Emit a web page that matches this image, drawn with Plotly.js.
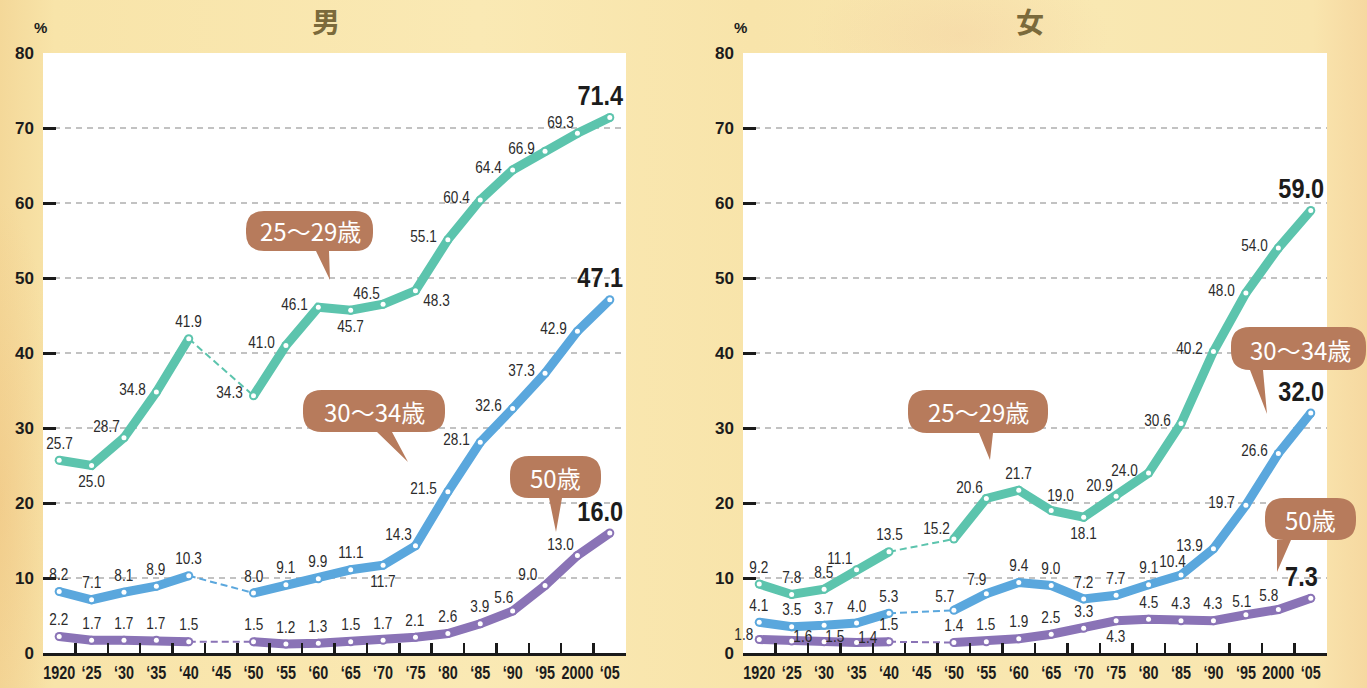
<!DOCTYPE html>
<html>
<head>
<meta charset="utf-8">
<script src="https://cdn.plot.ly/plotly-3.0.1.min.js"></script>
<style>
html,body{margin:0;padding:0;}
body{width:1367px;height:688px;overflow:hidden;
background:
 radial-gradient(ellipse 150px 70px at 960px 35px, rgba(238,185,150,0.22), rgba(238,185,150,0)),
 radial-gradient(ellipse 60px 300px at 0px 500px, rgba(236,180,110,0.30), rgba(236,180,110,0)),
 linear-gradient(90deg,#f4d899 0%,#f8e4a9 4%,#fae9b4 35%,#f8e4aa 55%,#f9e8b2 80%,#f9e5ae 96%,#f6d8a0 100%);}
#chart{width:1367px;height:688px;}
</style>
</head>
<body>
<div id="chart"></div>
<script>
// ---- data ----
const years = ['1920','‘25','‘30','‘35','‘40','‘45','‘50','‘55','‘60','‘65','‘70','‘75','‘80','‘85','‘90','‘95','2000','‘05'];

const male_25_29 = [25.7,25.0,28.7,34.8,41.9,null,34.3,41.0,46.1,45.7,46.5,48.3,55.1,60.4,64.4,66.9,69.3,71.4];
const male_30_34 = [8.2,7.1,8.1,8.9,10.3,null,8.0,9.1,9.9,11.1,11.7,14.3,21.5,28.1,32.6,37.3,42.9,47.1];
const male_50    = [2.2,1.7,1.7,1.7,1.5,null,1.5,1.2,1.3,1.5,1.7,2.1,2.6,3.9,5.6,9.0,13.0,16.0];

const female_25_29 = [9.2,7.8,8.5,11.1,13.5,null,15.2,20.6,21.7,19.0,18.1,20.9,24.0,30.6,40.2,48.0,54.0,59.0];
const female_30_34 = [4.1,3.5,3.7,4.0,5.3,null,5.7,7.9,9.4,9.0,7.2,7.7,9.1,10.4,13.9,19.7,26.6,32.0];
const female_50    = [1.8,1.6,1.5,1.4,1.5,null,1.4,1.5,1.9,2.5,3.3,4.3,4.5,4.3,4.3,5.1,5.8,7.3];

const seriesNames = ['25～29歳','30～34歳','50歳'];
const panelTitles = ['男','女'];

// ---- label placement codes (style) ----
const posM2529 = ['a','b','al','l','a','','l','l','l','b','al','br','l','l','l','l','al','big'];
const posM3034 = ['a','a','a','a','a','','a','a','a','a','b','al','l','l','l','l','l','big'];
const posM50   = ['a','a','a','a','a','','a','a','a','a','a','a','a','a','a2','al','al','big'];
const posF2529 = ['a','a','a','al','a','','al','al','a','ar','b','al','l','l','l','l','l','big'];
const posF3034 = ['a','a','a','a','a','','a2','a2','a','a','a','a','a','a2','l','l','l','big'];
const posF50   = ['l2','r','r','r','a','','a','a','a','a','a','b','a','a','a','a3','a2','big'];

const OFF = {a:[0,-17], a2:[-9,-14], a3:[-4,-13], b:[0,16], l:[-24,-3], l2:[-15,-5], al:[-17,-11], ar:[9,-15], r:[11,-5], br:[21,10], big:[-9,-22]};

const colTeal = '#5cc4ad', colBlue = '#5aa7dd', colPurple = '#8a73b6';
const bubbleCol = '#b77b5c';
const NUMFONT = 'Liberation Sans, Arial, sans-serif';

const W = 1367, H = 688, MT = 53, MB = 35, PH = H - MT - MB;
const px = x => x / W;
const py = y => (H - MB - y) / PH;

const traces = [];
const annotations = [];
const shapes = [];

function addSeries(xa, ya, vals, color, pos) {
  traces.push({x:[years[4], years[6]], y:[vals[4], vals[6]], xaxis:xa, yaxis:ya, mode:'lines',
    line:{color:color, width:2, dash:'7px,4px'}, hoverinfo:'skip', showlegend:false});
  traces.push({x:years, y:vals, xaxis:xa, yaxis:ya, mode:'lines+markers', connectgaps:false,
    line:{color:color, width:9}, marker:{size:9, color:color}, hoverinfo:'skip', showlegend:false});
  traces.push({x:years, y:vals, xaxis:xa, yaxis:ya, mode:'markers',
    marker:{size:5, color:'white'}, hoverinfo:'skip', showlegend:false});
  vals.forEach((v, i) => {
    if (v === null) return;
    const code = pos[i];
    const o = OFF[code];
    const big = code === 'big';
    // x given as the category index so numeric-looking labels ('1920','2000') are not misread
    annotations.push({xref:xa, yref:ya, x:i, y:v, text:v.toFixed(1), showarrow:false,
      xanchor:'center', yanchor:'middle', xshift:o[0], yshift:-o[1],
      font: big ? {family:NUMFONT, size:28, color:'#1c1c1c', weight:700}
                : {family:NUMFONT, size:17, color:'#2b2b2b'}});
  });
}

addSeries('x','y', male_25_29, colTeal, posM2529);
addSeries('x','y', male_30_34, colBlue, posM3034);
addSeries('x','y', male_50, colPurple, posM50);
addSeries('x2','y2', female_25_29, colTeal, posF2529);
addSeries('x2','y2', female_30_34, colBlue, posF3034);
addSeries('x2','y2', female_50, colPurple, posF50);

// ---- speech bubbles ----
function bubble(label, l, t, r, b, rad, tb1, tb2, tipx, tipy, tx, ty) {
  const P = (x, y) => px(x).toFixed(5) + ',' + py(y).toFixed(5);
  const path = 'M' + P(l+rad, t) + ' L' + P(r-rad, t) + ' Q' + P(r, t) + ' ' + P(r, t+rad) +
    ' L' + P(r, b-rad) + ' Q' + P(r, b) + ' ' + P(r-rad, b) +
    ' L' + P(tb2, b) + ' L' + P(tipx, tipy) + ' L' + P(tb1, b) +
    ' L' + P(l+rad, b) + ' Q' + P(l, b) + ' ' + P(l, b-rad) +
    ' L' + P(l, t+rad) + ' Q' + P(l, t) + ' ' + P(l+rad, t) + ' Z';
  shapes.push({type:'path', xref:'paper', yref:'paper', path:path, fillcolor:bubbleCol, line:{width:0}, layer:'above'});
  annotations.push({xref:'paper', yref:'paper', x:px(tx), y:py(ty), text:label, showarrow:false,
    xanchor:'center', yanchor:'middle', font:{family:'Noto Sans CJK JP, sans-serif', size:24, color:'#ffffff'}});
}
bubble(seriesNames[0], 246, 211, 373, 251, 18, 316, 329, 330, 280, 310, 231);
bubble(seriesNames[1], 303, 390, 445, 432, 19, 377, 392, 408, 462, 374, 411);
bubble(seriesNames[2], 510, 456, 601, 498, 19, 549, 562, 556, 532, 555, 477);
bubble(seriesNames[0], 908, 390, 1048, 433, 19, 979, 993, 990, 460, 978, 411);
bubble(seriesNames[1], 1231, 327, 1366, 370, 19, 1250, 1263, 1267, 414, 1300, 349);
bubble(seriesNames[2], 1265, 498, 1356, 540, 19, 1277, 1291, 1277, 572, 1310, 519);

// ---- titles and unit marks ----
annotations.push({xref:'paper', yref:'paper', x:px(326), y:py(21), text:panelTitles[0], showarrow:false,
  xanchor:'center', yanchor:'middle', font:{family:'Noto Sans CJK JP, sans-serif', size:28, color:'#7b6a3b', weight:700}});
annotations.push({xref:'paper', yref:'paper', x:px(1030), y:py(21), text:panelTitles[1], showarrow:false,
  xanchor:'center', yanchor:'middle', font:{family:'Noto Sans CJK JP, sans-serif', size:28, color:'#7b6a3b', weight:700}});
annotations.push({xref:'paper', yref:'paper', x:px(40), y:py(28), text:'%', showarrow:false,
  xanchor:'center', yanchor:'middle', font:{family:NUMFONT, size:15, color:'#1c1c1c', weight:700}});
annotations.push({xref:'paper', yref:'paper', x:px(740), y:py(28), text:'%', showarrow:false,
  xanchor:'center', yanchor:'middle', font:{family:NUMFONT, size:15, color:'#1c1c1c', weight:700}});

// ---- axes ----
function xAxis(domain, anchor) {
  return {domain:domain, anchor:anchor, type:'category', categoryorder:'array', categoryarray:years,
    range:[-0.5, 17.5], tickson:'boundaries', ticks:'inside', ticklen:10, tickwidth:2.5, tickcolor:'#1a1a1a',
    tickangle:0, showline:true, linewidth:3, linecolor:'#1a1a1a', showgrid:false, zeroline:false, fixedrange:true,
    ticklabelstandoff:1,
    tickfont:{family:NUMFONT, size:18, color:'#1c1c1c', weight:700}};
}
function yAxis(anchor) {
  return {anchor:anchor, range:[0,80], tickvals:[0,10,20,30,40,50,60,70,80], ticks:'inside', ticklen:13, tickwidth:3,
    tickcolor:'#1a1a1a', showgrid:true, gridcolor:'#c2c2c2', gridwidth:2, griddash:'6px,5px', zeroline:false,
    showline:false, fixedrange:true, ticklabelstandoff:8,
    tickfont:{family:NUMFONT, size:17, color:'#1c1c1c', weight:700}};
}

const layout = {
  width:W, height:H, margin:{l:0, r:0, t:MT, b:MB, pad:0},
  paper_bgcolor:'rgba(0,0,0,0)', plot_bgcolor:'#ffffff', showlegend:false,
  xaxis: xAxis([px(43), px(626)], 'y'),
  yaxis: yAxis('x'),
  xaxis2: xAxis([px(743), px(1327)], 'y2'),
  yaxis2: yAxis('x2'),
  annotations:annotations, shapes:shapes
};

// condense numeric labels horizontally (condensed typeface look)
function condense(el, s) {
  const bb = el.getBBox();
  const cx = bb.x + bb.width / 2;
  const prev = el.getAttribute('transform') || '';
  el.setAttribute('transform', prev + ' translate(' + cx + ',0) scale(' + s + ',1) translate(' + (-cx) + ',0)');
}

Plotly.newPlot('chart', traces, layout, {staticPlot:true, displayModeBar:false}).then(gd => {
  gd.querySelectorAll('.xtick text, .x2tick text').forEach(el => condense(el, 0.8));
  gd.querySelectorAll('text.annotation-text').forEach(el => {
    const t = el.textContent;
    if (/^[0-9.]+$/.test(t)) {
      const big = parseFloat(el.style.fontSize) > 20;
      condense(el, big ? 0.84 : 0.8);
    }
  });
});
</script>
</body>
</html>
